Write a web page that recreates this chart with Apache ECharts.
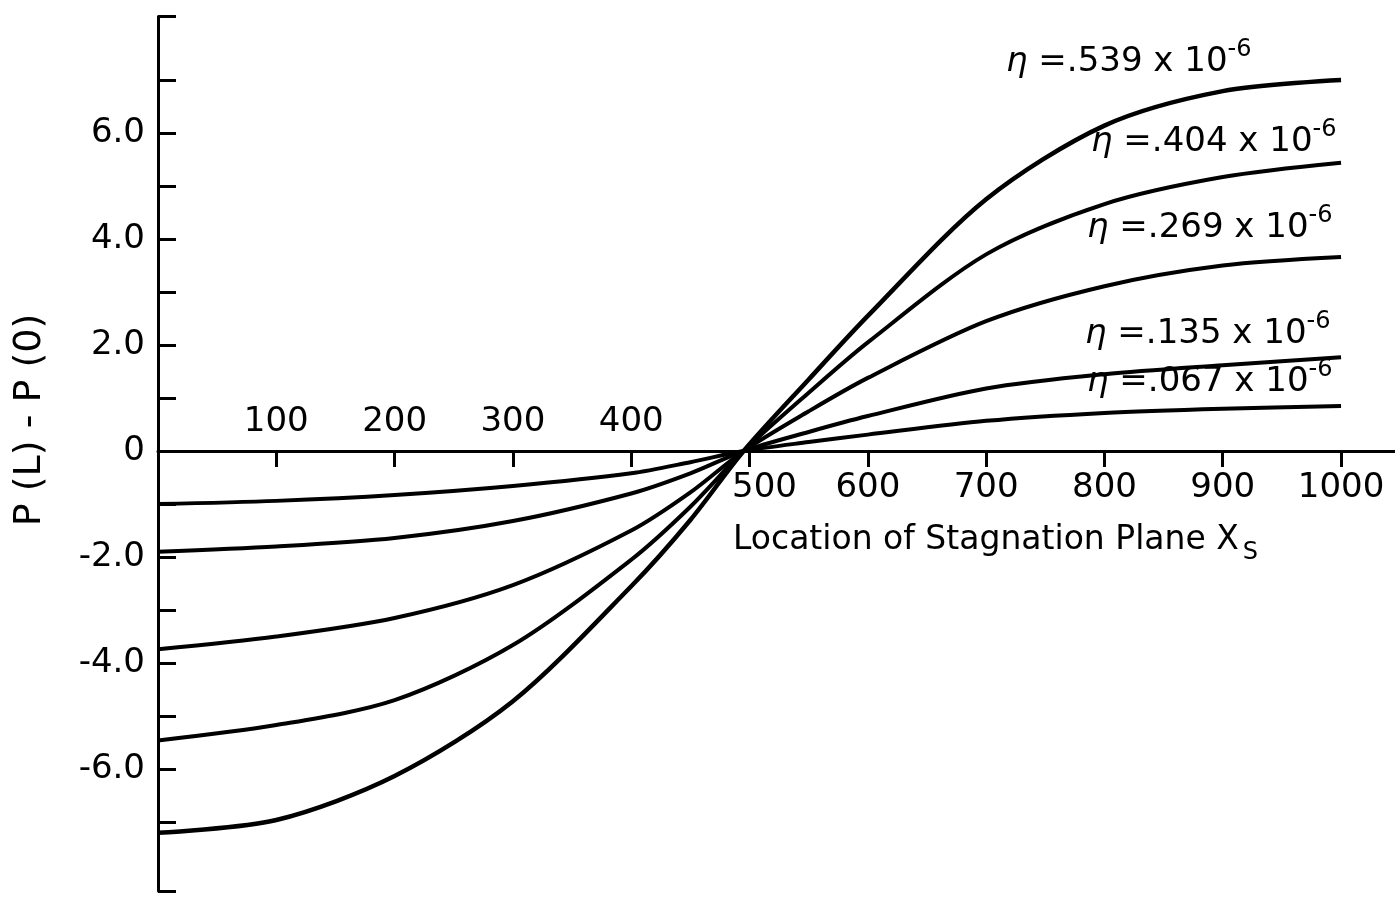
<!DOCTYPE html>
<html>
<head>
<meta charset="utf-8">
<script src="https://cdn.jsdelivr.net/npm/echarts@6/dist/echarts.min.js"></script>
<style>
  html, body { margin: 0; padding: 0; background: #fff; }
  #chart { width: 1395px; height: 897px; }
</style>
</head>
<body>
<div id="chart"></div>
<script>
// ---- data ----
const xValues = [0, 100, 200, 300, 400, 450, 495, 550, 600, 700, 800, 900, 1000];
const eta539 = [-7.20, -6.96, -6.13, -4.72, -2.55, -1.30, 0, 1.35, 2.55, 4.75, 6.14, 6.79, 7.00];
const eta404 = [-5.46, -5.17, -4.70, -3.66, -2.05, -1.05, 0, 1.10, 2.05, 3.71, 4.66, 5.17, 5.44];
const eta269 = [-3.74, -3.50, -3.15, -2.53, -1.50, -0.78, 0, 0.75, 1.38, 2.45, 3.11, 3.50, 3.66];
const eta135 = [-1.90, -1.80, -1.64, -1.32, -0.80, -0.42, 0, 0.36, 0.66, 1.18, 1.45, 1.62, 1.77];
const eta067 = [-1.00, -0.94, -0.83, -0.66, -0.42, -0.21, 0, 0.17, 0.31, 0.57, 0.72, 0.80, 0.85];
const seriesNames = ['.539', '.404', '.269', '.135', '.067'];
const seriesValues = [eta539, eta404, eta269, eta135, eta067];

const yTickValues = [-8.3, -7, -6, -5, -4, -3, -2, -1, 0, 1, 2, 3, 4, 5, 6, 7, 8.2];
const yLabelValues = [-6, -4, -2, 0, 2, 4, 6];
const xTickValues = [100, 200, 300, 400, 500, 600, 700, 800, 900, 1000];
const xLabelsBelow = [500, 600, 700, 800, 900, 1000];
const xLabelsAbove = [100, 200, 300, 400];

const FONT = '"DejaVu Sans", sans-serif';
const Y_MIN = -8.3, Y_MAX = 8.2;
const GRID = { left: 158, right: 0, top: 16.4, bottom: 6 };
const plotH = 897 - GRID.top - GRID.bottom;
const pxPerUnit = plotH / (Y_MAX - Y_MIN);

const chart = echarts.init(document.getElementById('chart'), null, { renderer: 'canvas' });

function pairs(ys) { return xValues.map((x, i) => [x, ys[i]]); }

const labelPos = [
  [1006, 62], [1091, 142], [1087, 228], [1085, 334], [1087, 382]
];

function etaText(v) {
  return '{e|η}{t| =' + v + ' x 10}{s|-6}';
}
const etaRich = {
  e: { fontFamily: FONT, fontSize: 34, fontStyle: 'italic', fill: '#000', lineHeight: 40 },
  t: { fontFamily: FONT, fontSize: 34, fill: '#000', lineHeight: 40 },
  s: { fontFamily: FONT, fontSize: 24, fill: '#000', lineHeight: 24, padding: [0, 0, 24, 0] }
};

const option = {
  backgroundColor: '#ffffff',
  animation: false,
  grid: Object.assign({ containLabel: false }, GRID),
  xAxis: [{
    type: 'value', min: 0, max: 1045.6, position: 'bottom',
    offset: -(-Y_MIN) * pxPerUnit,
    axisLine: { onZero: false, lineStyle: { color: '#000', width: 3 } },
    axisTick: { show: true, customValues: xTickValues, length: 16, inside: false, lineStyle: { color: '#000', width: 3 } },
    axisLabel: {
      customValues: xLabelsBelow, margin: 20, color: '#000', fontFamily: FONT, fontSize: 34,
      formatter: v => (v === 500 ? '{s|500}' : String(v)),
      rich: { s: { fontFamily: FONT, fontSize: 34, color: '#000', padding: [0, 0, 0, 30] } }
    },
    splitLine: { show: false }
  }, {
    type: 'value', min: 0, max: 1045.6, position: 'top',
    offset: -Y_MAX * pxPerUnit,
    axisLine: { show: false, onZero: false },
    axisTick: { show: false },
    axisLabel: { customValues: xLabelsAbove, margin: 12, color: '#000', fontFamily: FONT, fontSize: 34 },
    splitLine: { show: false }
  }],
  yAxis: {
    type: 'value', min: Y_MIN, max: Y_MAX,
    axisLine: { show: true, onZero: false, lineStyle: { color: '#000', width: 3 } },
    axisTick: { show: true, customValues: yTickValues, inside: true, length: 18, lineStyle: { color: '#000', width: 3 } },
    axisLabel: {
      customValues: yLabelValues, margin: 13, color: '#000', fontFamily: FONT, fontSize: 34,
      formatter: v => (v === 0 ? '0' : v.toFixed(1))
    },
    splitLine: { show: false }
  },
  series: seriesValues.map((vals, i) => ({
    name: seriesNames[i], type: 'line', xAxisIndex: 0, data: pairs(vals),
    smooth: 0.3, showSymbol: false, symbol: 'none',
    lineStyle: { color: '#000', width: i === 0 ? 4.5 : 4 }, z: 3
  })),
  graphic: [
    {
      type: 'text', x: 30, y: 420, rotation: Math.PI / 2,
      style: { text: 'P (L) - P (0)', fontFamily: FONT, fontSize: 38, fill: '#000', align: 'center', verticalAlign: 'middle' }
    },
    {
      type: 'text', x: 733, y: 540,
      style: {
        text: '{t|Location of Stagnation Plane X}{s|S}',
        verticalAlign: 'middle', align: 'left',
        rich: {
          t: { fontFamily: FONT, fontSize: 33, fill: '#000', lineHeight: 40 },
          s: { fontFamily: FONT, fontSize: 24, fill: '#000', lineHeight: 24, padding: [26, 0, 0, 4] }
        }
      }
    }
  ].concat(seriesNames.map((n, i) => ({
    type: 'text', x: labelPos[i][0], y: labelPos[i][1],
    style: { text: etaText(n), rich: etaRich, align: 'left', verticalAlign: 'middle' }
  })))
};
chart.setOption(option);
</script>
</body>
</html>
